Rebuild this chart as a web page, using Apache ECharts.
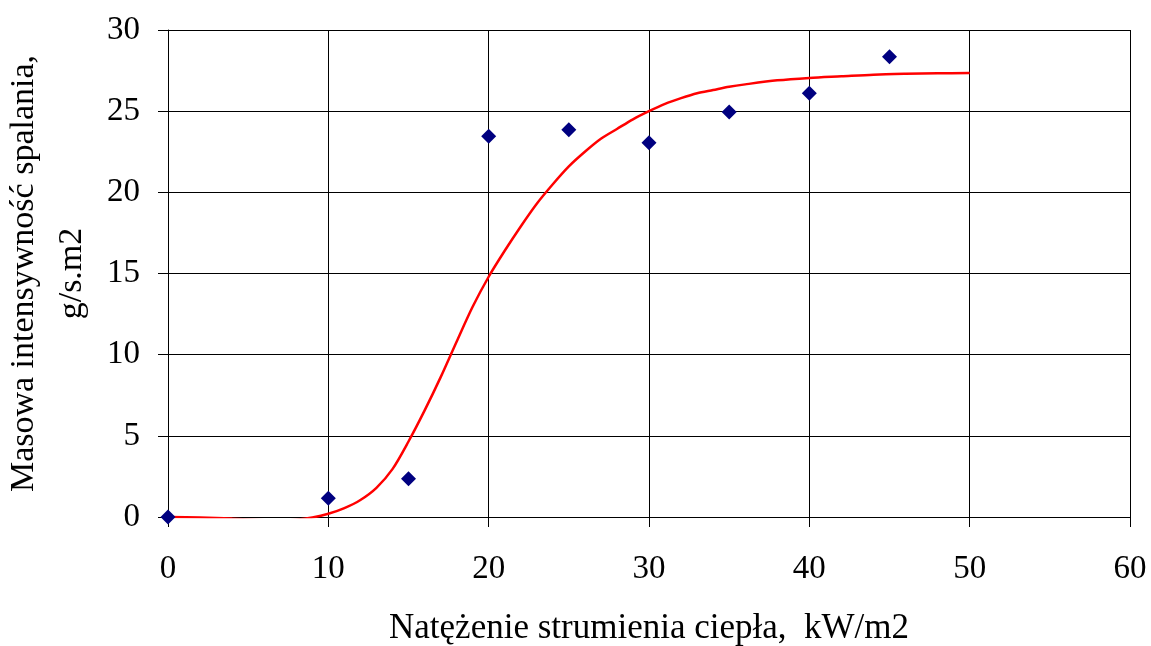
<!DOCTYPE html>
<html>
<head>
<meta charset="utf-8">
<script src="https://cdn.jsdelivr.net/npm/echarts@6/dist/echarts.min.js"></script>
<style>
html,body{margin:0;padding:0;background:#fff;}
#c{width:1151px;height:646px;}
</style>
</head>
<body>
<div id="c"></div>
<script>
// Measured points
const pointX = [0, 10, 15, 20, 25, 30, 35, 40, 45];
const pointY = [0, 1.15, 2.35, 23.45, 23.85, 23.05, 24.95, 26.1, 28.35];
// Fitted curve
const curveX = [0, 2, 4, 6, 7, 8, 9, 10, 11, 12, 13, 14, 15, 16, 17, 18, 19, 20, 21, 22, 23, 24, 25, 26, 27, 28, 29, 30, 31, 32, 33, 34, 35, 36, 38, 40, 42, 44, 46, 48, 50];
const curveY = [0, -0.03, -0.1, -0.2, -0.22, -0.17, -0.03, 0.2, 0.55, 1.05, 1.8, 2.95, 4.65, 6.55, 8.6, 10.8, 12.95, 14.8, 16.4, 17.9, 19.3, 20.5, 21.6, 22.5, 23.3, 23.9, 24.5, 25.0, 25.45, 25.8, 26.1, 26.3, 26.5, 26.65, 26.9, 27.05, 27.15, 27.25, 27.3, 27.33, 27.35];
const xTitle = 'Natężenie strumienia ciepła,  kW/m2';
const yTitle = 'Masowa intensywność spalania,\ng/s.m2';

const font = '"Liberation Serif", "Times New Roman", serif';
const chart = echarts.init(document.getElementById('c'), null, {renderer: 'canvas'});
chart.setOption({
  animation: false,
  backgroundColor: '#fff',
  grid: {left: 168, right: 21, top: 30, bottom: 129, containLabel: false, outerBoundsMode: 'none'},
  xAxis: {
    type: 'value', min: 0, max: 60, interval: 10,
    name: xTitle, nameLocation: 'middle', nameGap: 94,
    nameTextStyle: {fontFamily: font, fontSize: 35, color: '#000'},
    axisLine: {show: true, onZero: false, lineStyle: {color: '#000', width: 1}},
    axisTick: {show: true, length: 10, lineStyle: {color: '#000'}},
    axisLabel: {fontFamily: font, fontSize: 33, color: '#000', margin: 36},
    splitLine: {show: true, lineStyle: {color: '#000', width: 1}}
  },
  yAxis: {
    type: 'value', min: 0, max: 30, interval: 5,
    name: yTitle, nameLocation: 'middle', nameGap: 68,
    nameTextStyle: {fontFamily: font, fontSize: 34, color: '#000', lineHeight: 48},
    axisLine: {show: true, onZero: false, lineStyle: {color: '#000', width: 1}},
    axisTick: {show: true, length: 10, lineStyle: {color: '#000'}},
    axisLabel: {fontFamily: font, fontSize: 33, color: '#000', margin: 28},
    splitLine: {show: true, lineStyle: {color: '#000', width: 1}}
  },
  series: [
    {
      type: 'line',
      data: curveX.map((x, i) => [x, curveY[i]]),
      smooth: 0.3,
      showSymbol: false,
      lineStyle: {color: '#ff0000', width: 2.5},
      z: 2
    },
    {
      type: 'scatter',
      data: pointX.map((x, i) => [x, pointY[i]]),
      symbol: 'diamond',
      symbolSize: [15, 15],
      itemStyle: {color: '#000080', opacity: 1},
      z: 3
    }
  ]
});
</script>
</body>
</html>
